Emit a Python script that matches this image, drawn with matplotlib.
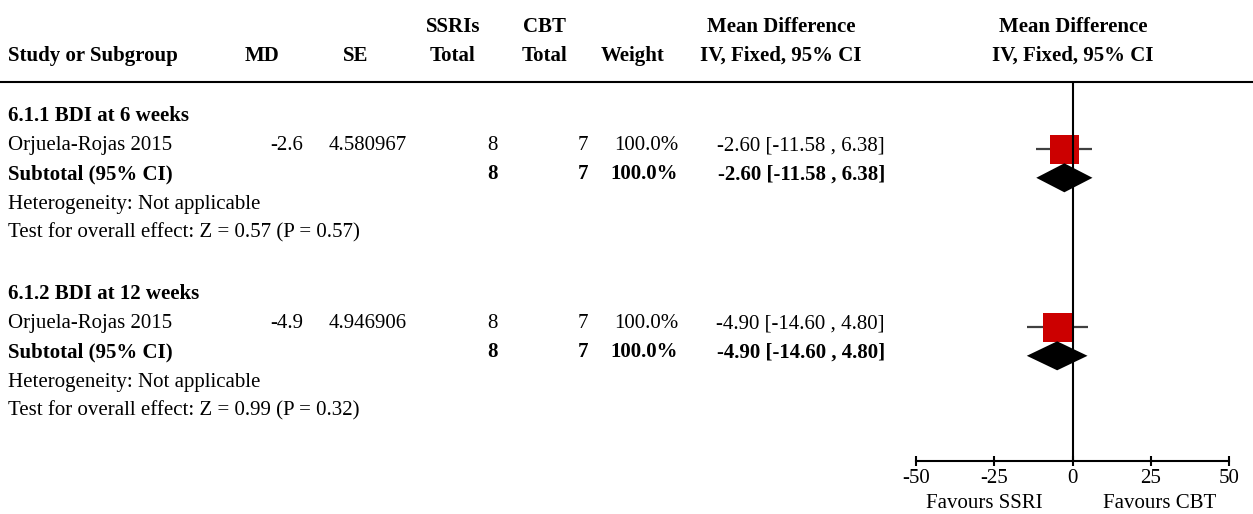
import matplotlib
matplotlib.use("Agg")
import matplotlib.pyplot as plt

plt.rcParams['font.family'] = ['Liberation Serif', 'DejaVu Serif']
plt.rcParams['axes.unicode_minus'] = False

# data
subgroups = ["6.1.1 BDI at 6 weeks", "6.1.2 BDI at 12 weeks"]
studies = ["Orjuela-Rojas 2015", "Orjuela-Rojas 2015"]
md = [-2.6, -4.9]
se = [4.580967, 4.946906]
n_ssri = [8, 8]
n_cbt = [7, 7]
weight = [100.0, 100.0]
ci_lo = [-11.58, -14.60]
ci_hi = [6.38, 4.80]
z_stat = [0.57, 0.99]
p_val = [0.57, 0.32]
xticks = [-50, -25, 0, 25, 50]

W, H = 1253, 514
FS = 15
fig = plt.figure(figsize=(W / 100, H / 100), dpi=100)

# table layer in pixel coordinates
tab = fig.add_axes([0, 0, 1, 1])
tab.set_xlim(0, W)
tab.set_ylim(H, 0)
tab.axis('off')

# forest layer in mean difference units
ax = fig.add_axes([916 / W, 0, 313 / W, 1])
ax.set_xlim(-50, 50)
ax.set_ylim(H, 0)
for s in ['left', 'right', 'top']:
    ax.spines[s].set_visible(False)
ax.spines['bottom'].set_position(('data', 461))
ax.spines['bottom'].set_linewidth(1.5)
ax.set_yticks([])
ax.set_xticks(xticks)
ax.set_xticklabels([str(t) for t in xticks])
ax.tick_params(axis='x', direction='inout', length=7.2, width=1.5, pad=2, labelsize=FS)
ax.patch.set_alpha(0)

# header
hdr = dict(fontsize=FS, fontweight='bold', ha='center', va='baseline')
tab.text(8, 61, "Study or Subgroup", fontsize=FS, fontweight='bold', ha='left', va='baseline')
tab.text(262, 61, "MD", **hdr)
tab.text(356, 61, "SE", **hdr)
tab.text(453, 32, "SSRIs", **hdr)
tab.text(453, 61, "Total", **hdr)
tab.text(544, 32, "CBT", **hdr)
tab.text(544, 61, "Total", **hdr)
tab.text(633, 61, "Weight", **hdr)
tab.text(781, 32, "Mean Difference", **hdr)
tab.text(781, 61, "IV, Fixed, 95% CI", **hdr)
tab.text(1073, 32, "Mean Difference", **hdr)
tab.text(1073, 61, "IV, Fixed, 95% CI", **hdr)
tab.hlines(82, 0, W, color='black', lw=1.5)

ax.vlines(0, 82, 461, color='black', lw=1.5, zorder=4)

step = 29.3
for g in range(len(subgroups)):
    base = 120.7 + g * 178
    y_study = base + step
    y_sub = base + 2 * step
    tab.text(8, base, subgroups[g], fontsize=FS, fontweight='bold', va='baseline')

    ci_txt = f"{md[g]:.2f} [{ci_lo[g]:.2f} , {ci_hi[g]:.2f}]"
    for y, bold in [(y_study, False), (y_sub, True)]:
        fw = 'bold' if bold else 'normal'
        kw = dict(fontsize=FS, fontweight=fw, ha='right', va='baseline')
        tab.text(8, y, "Subtotal (95% CI)" if bold else studies[g],
                 fontsize=FS, fontweight=fw, ha='left', va='baseline')
        if not bold:
            tab.text(303, y, f"{md[g]:g}", **kw)
            tab.text(407, y, f"{se[g]:.6f}", **kw)
        tab.text(498, y, str(n_ssri[g]), **kw)
        tab.text(588, y, str(n_cbt[g]), **kw)
        tab.text(678, y, f"{weight[g]:.1f}%", **kw)
        tab.text(885, y, ci_txt, **kw)

    tab.text(8, base + 3 * step, "Heterogeneity: Not applicable", fontsize=FS, va='baseline')
    tab.text(8, base + 4 * step, f"Test for overall effect: Z = {z_stat[g]:.2f} (P = {p_val[g]:.2f})",
             fontsize=FS, va='baseline')

    # study square with CI whisker
    yc = y_study - 1.5
    ax.hlines(yc, ci_lo[g], ci_hi[g], color='#404040', lw=1.6, zorder=2)
    ax.plot([md[g]], [yc], marker='s', ms=29 * 0.72, mew=0, color='#CC0000', ls='none', zorder=3)

    # subtotal diamond
    yd = y_sub - 1.5
    ax.fill([ci_lo[g], md[g], ci_hi[g], md[g]], [yd, yd - 14.5, yd, yd + 14.5],
            color='black', lw=0, zorder=3)

ax.text(-9.6, 508, "Favours SSRI", fontsize=FS, ha='right', va='baseline')
ax.text(9.6, 508, "Favours CBT", fontsize=FS, ha='left', va='baseline')

fig.savefig("out.png", dpi=100)
